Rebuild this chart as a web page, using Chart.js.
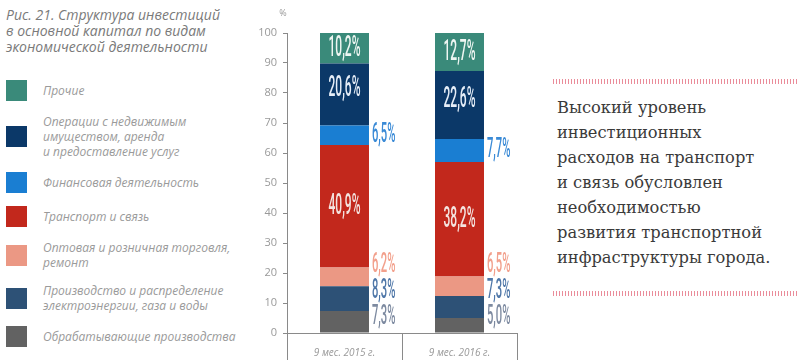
<!DOCTYPE html>
<html lang="ru">
<head>
<meta charset="utf-8">
<script src="https://cdn.jsdelivr.net/npm/chart.js@4"></script>
<style>
  body { margin: 0; width: 804px; height: 360px; background: #fff; position: relative; overflow: hidden; font-family: "Open Sans", sans-serif; }
  #title { position: absolute; left: 6px; top: 7px; font-style: italic; font-size: 14px; line-height: 16px; color: #7a7a7a; }
  #legend { position: absolute; left: 6px; top: 80px; }
  .item { display: flex; align-items: center; margin-bottom: 13px; }
  .sw { width: 21px; height: 21px; flex: none; margin-right: 16px; }
  .lbl { font-style: italic; font-size: 12px; line-height: 15px; color: #9a9a9a; white-space: pre; }
  #box { position: absolute; left: 240px; top: 0; width: 300px; height: 360px; }
  .dots { position: absolute; left: 553px; width: 244px; height: 5px;
          background: repeating-linear-gradient(90deg, #ea8c9a 0 1px, transparent 1px 3px); }
  #note { position: absolute; left: 557px; top: 95px; font-family: "DejaVu Serif", serif; font-size: 16.3px; line-height: 25px; color: #3a3a3a; }
</style>
</head>
<body>
<div id="title">Рис. 21. Структура инвестиций<br>в основной капитал по видам<br>экономической деятельности</div>
<div id="legend"></div>
<div id="box"><canvas id="chart"></canvas></div>
<div class="dots" style="top:79px"></div>
<div id="note">Высокий уровень<br>инвестиционных<br>расходов на транспорт<br>и связь обусловлен<br>необходимостью<br>развития транспортной<br>инфраструктуры города.</div>
<div class="dots" style="top:291px"></div>
<script>
// periods on the x axis
var categories = ['9 мес. 2015 г.', '9 мес. 2016 г.'];

// shares, %, [2015, 2016]
var manufacturing = [7.3, 5.0];
var energy = [8.3, 7.3];
var trade = [6.2, 6.5];
var transport = [40.9, 38.2];
var finance = [6.5, 7.7];
var realEstate = [20.6, 22.6];
var other = [10.2, 12.7];

var yTicks = [0, 10, 20, 30, 40, 50, 60, 70, 80, 90, 100];

// stacked bottom -> top
var series = [
  { name: 'Обрабатывающие производства', data: manufacturing, color: '#626262', text: '#7d8aa0', inside: false },
  { name: 'Производство и распределение\nэлектроэнергии, газа и воды', data: energy, color: '#2d5176', text: '#4f77a8', inside: false },
  { name: 'Оптовая и розничная торговля,\nремонт', data: trade, color: '#eb9884', text: '#f2a08c', inside: false },
  { name: 'Транспорт и связь', data: transport, color: '#c2281c', text: '#f4e4e0', inside: true },
  { name: 'Финансовая деятельность', data: finance, color: '#1a7ed2', text: '#3a8ad6', inside: false },
  { name: 'Операции с недвижимым\nимуществом, аренда\nи предоставление услуг', data: realEstate, color: '#0b3868', text: '#e6eef8', inside: true },
  { name: 'Прочие', data: other, color: '#3a8a7a', text: '#eef6f2', inside: true }
];

// legend, top -> bottom
var legend = document.getElementById('legend');
series.slice().reverse().forEach(function (s) {
  var row = document.createElement('div');
  row.className = 'item';
  row.innerHTML = '<div class="sw" style="background:' + s.color + '"></div><div class="lbl"></div>';
  row.querySelector('.lbl').textContent = s.name;
  legend.appendChild(row);
});

function fmt(v) { return v.toFixed(1).replace('.', ',') + '%'; }

function tallText(ctx, text, x, y, align, color, size) {
  ctx.save();
  ctx.translate(x, y);
  ctx.scale(0.4, 1);
  ctx.font = '500 ' + size + 'px Roboto';
  ctx.textAlign = align;
  ctx.textBaseline = 'middle';
  ctx.fillStyle = color;
  ctx.fillText(text, 0, 0);
  ctx.restore();
}

var barLabels = {
  id: 'barLabels',
  afterDatasetsDraw: function (chart) {
    var ctx = chart.ctx;
    var area = chart.chartArea;
    categories.forEach(function (c, j) {
      var prev = area.bottom - 16 + 26;
      chart.data.datasets.forEach(function (ds, i) {
        var bar = chart.getDatasetMeta(i).data[j];
        var s = series[i];
        var mid = (bar.y + bar.base) / 2;
        if (s.inside) {
          tallText(ctx, fmt(ds.data[j]), bar.x, mid - (i === 5 ? 6 : 0), 'center', s.text, 30);
        } else {
          var cy = Math.min(mid, prev - 26);
          prev = cy;
          tallText(ctx, fmt(ds.data[j]), bar.x + bar.width / 2 + 3, cy, 'left', s.text, 28);
        }
      });
    });
    ctx.save();
    ctx.font = '9px "Open Sans"';
    ctx.fillStyle = '#999';
    ctx.textAlign = 'center';
    ctx.fillText('%', area.left - 4, area.top - 17);
    ctx.restore();
  }
};

new Chart(document.getElementById('chart'), {
  type: 'bar',
  data: {
    labels: categories,
    datasets: series.map(function (s) {
      return { label: s.name, data: s.data, backgroundColor: s.color, borderWidth: 0,
               barPercentage: 0.426, categoryPercentage: 1 };
    })
  },
  options: {
    responsive: true,
    maintainAspectRatio: false,
    animation: false,
    layout: { padding: { top: 33, right: 23, left: 0, bottom: 0 } },
    plugins: { legend: { display: false }, tooltip: { enabled: false } },
    scales: {
      x: {
        stacked: true,
        grid: { drawOnChartArea: false, tickLength: 27, color: '#8a8a8a' },
        border: { color: '#8a8a8a' },
        ticks: { color: '#999', padding: -13, font: { family: 'Open Sans', size: 10, style: 'italic' } },
        afterFit: function (s) { s.height = 27; }
      },
      y: {
        stacked: true,
        min: 0,
        max: 100,
        afterBuildTicks: function (s) { s.ticks = yTicks.map(function (v) { return { value: v }; }); },
        grid: { drawOnChartArea: false, tickLength: 4, color: '#8a8a8a' },
        border: { color: '#8a8a8a' },
        ticks: { color: '#999', padding: 6, font: { family: 'Open Sans', size: 11 } },
        afterFit: function (s) { s.width = 47; }
      }
    }
  },
  plugins: [barLabels]
});
</script>
</body>
</html>
